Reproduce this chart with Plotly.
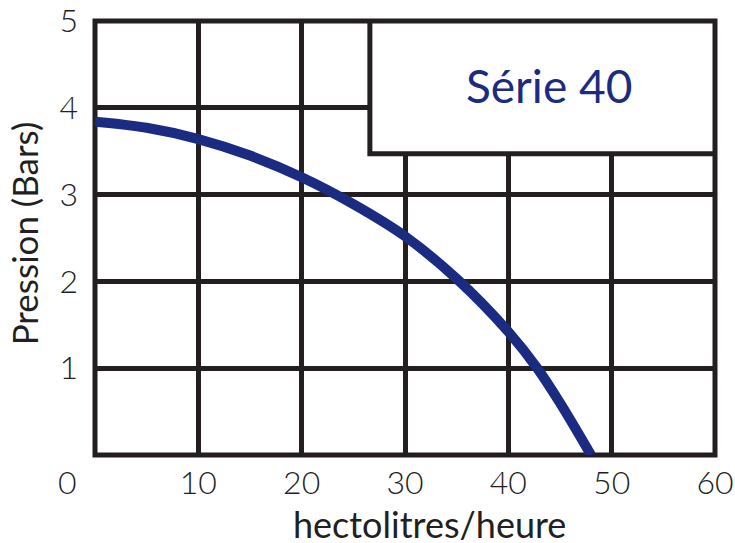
import plotly.graph_objects as go

# Data
flow = [0, 5, 10, 15, 20, 25, 30, 35, 40, 42.8, 45, 48]
pressure = [3.84, 3.77, 3.64, 3.45, 3.20, 2.89, 2.52, 2.03, 1.42, 1.0, 0.6, 0.0]

x_ticks = [10, 20, 30, 40, 50, 60]
y_ticks = [1, 2, 3, 4, 5]
corner_label = "0"
series_label = "Série 40"
x_title = "hectolitres/heure"
y_title = "Pression (Bars)"

navy = "#1c2b82"
ink = "#231f20"
font_family = "Lato, 'Open Sans', sans-serif"

fig = go.Figure()
fig.add_trace(go.Scatter(
    x=flow, y=pressure, mode="lines",
    line=dict(color=navy, width=10, shape="spline", smoothing=1.0),
    hoverinfo="skip", showlegend=False,
))

fig.update_layout(
    width=735, height=543,
    margin=dict(l=95, r=20, t=21, b=88, autoexpand=False),
    paper_bgcolor="white", plot_bgcolor="white",
    font=dict(family=font_family, color=ink),
    xaxis=dict(range=[0, 60], tickvals=x_ticks, ticktext=[str(v) for v in x_ticks],
               showgrid=True, gridcolor=ink, gridwidth=5, zeroline=False, showline=False,
               ticks="", tickfont=dict(size=32, color=ink, weight=300), ticklabelstandoff=6,
               ticklabeloverflow="allow", automargin=False, fixedrange=True),
    yaxis=dict(range=[0, 5], tickvals=y_ticks, ticktext=[str(v) for v in y_ticks],
               showgrid=True, gridcolor=ink, gridwidth=5, zeroline=False, showline=False,
               ticks="", tickfont=dict(size=32, color=ink, weight=300), ticklabelstandoff=16,
               ticklabeloverflow="allow", automargin=False, fixedrange=True),
    shapes=[
        # inset label box
        dict(type="rect", xref="x", yref="y", x0=26.6, x1=60, y0=3.47, y1=5,
             fillcolor="white", line=dict(color=ink, width=5), layer="between"),
        # plot border
        dict(type="rect", xref="paper", yref="paper", x0=0, x1=1, y0=0, y1=1,
             line=dict(color=ink, width=5), layer="between"),
    ],
    annotations=[
        dict(text=series_label, xref="x", yref="y", x=43.9, y=4.26, showarrow=False,
             font=dict(size=46, color=navy, family=font_family), xanchor="center", yanchor="middle"),
        dict(text=corner_label, xref="paper", yref="paper", x=-0.045, y=-0.062, showarrow=False,
             font=dict(size=32, color=ink, family=font_family, weight=300), xanchor="center", yanchor="middle"),
        dict(text=x_title, xref="paper", yref="paper", x=0.539, y=-0.16, showarrow=False,
             font=dict(size=36, color=ink, family=font_family), xanchor="center", yanchor="middle"),
        dict(text=y_title, xref="paper", yref="paper", x=-0.115, y=0.51, showarrow=False,
             textangle=-90, font=dict(size=35, color=ink, family=font_family), xanchor="center", yanchor="middle"),
    ],
)

# remove the default 8px page margin so the figure fills the window exactly
fig.write_html("out.html", config={"displayModeBar": False, "staticPlot": True},
               post_script="document.body.style.margin='0';document.body.style.overflow='hidden';")
